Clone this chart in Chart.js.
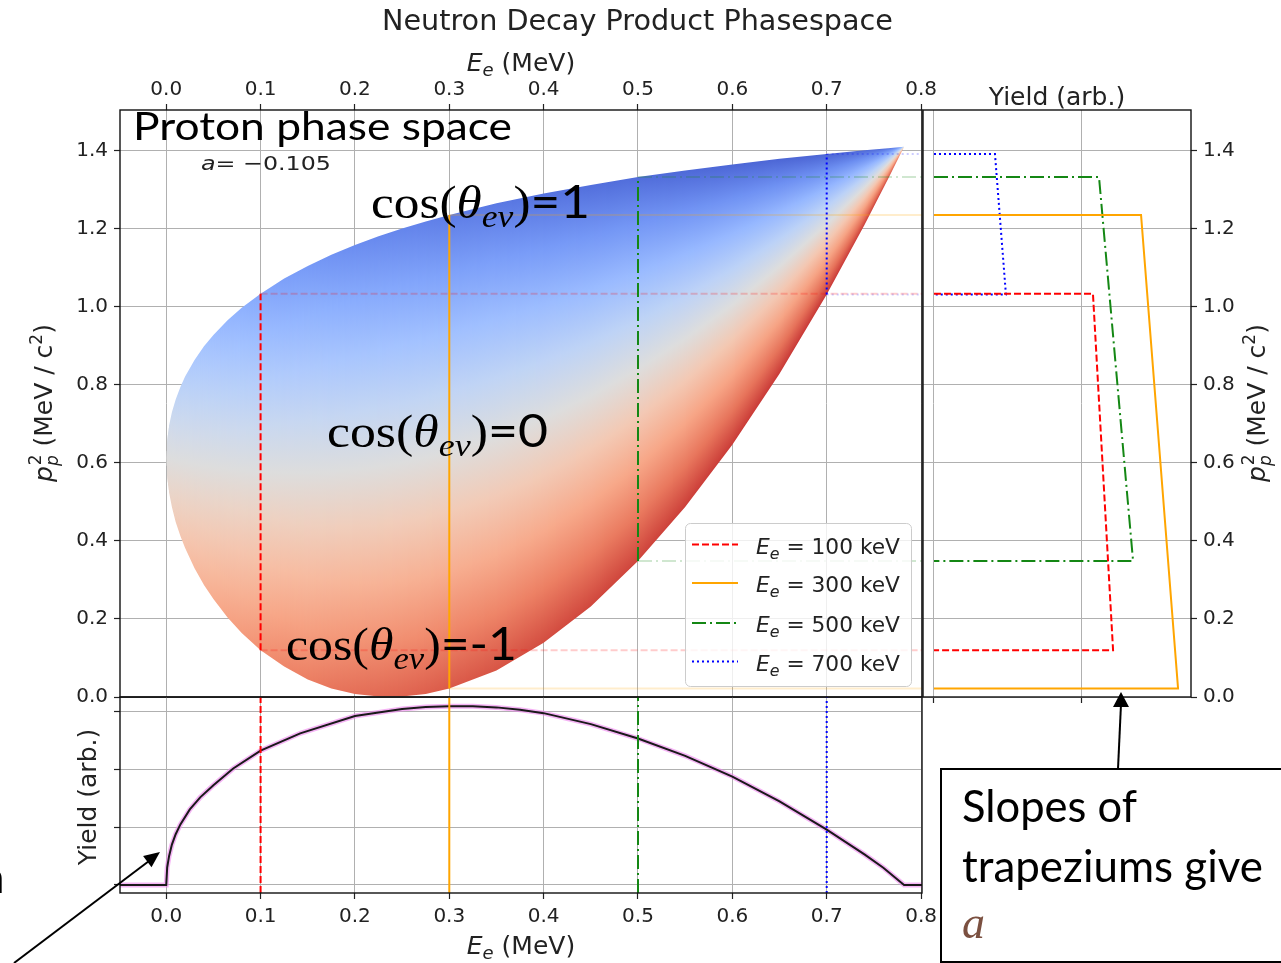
<!DOCTYPE html>
<html>
<head>
<meta charset="utf-8">
<title>Neutron Decay Product Phasespace</title>
<script src="https://cdn.jsdelivr.net/npm/chart.js@4.4.1/dist/chart.umd.min.js"></script>
<style>
  body { margin: 0; background: #fff; }
  #wrap { position: relative; width: 1281px; height: 963px; overflow: hidden; background: #fff; }
  #wrap canvas, #wrap svg { position: absolute; left: 0; top: 0; }
</style>
</head>
<body>
<div id="wrap">
  <canvas id="phaseChart" width="1281" height="963"></canvas>
  <canvas id="yieldChart" width="1281" height="963"></canvas>
  <canvas id="spectrumChart" width="1281" height="963"></canvas>
  <svg id="notes" width="1281" height="963" xmlns="http://www.w3.org/2000/svg">
    <g font-family="DejaVu Sans" fill="#222">
      <text x="637.5" y="30" font-size="28" text-anchor="middle" textLength="511" lengthAdjust="spacingAndGlyphs">Neutron Decay Product Phasespace</text>
      <text x="521" y="71" font-size="25" text-anchor="middle"><tspan font-style="italic">E</tspan><tspan font-style="italic" font-size="18" dy="5">e</tspan><tspan dy="-5"> (MeV)</tspan></text>
      <text x="521" y="954" font-size="25" text-anchor="middle"><tspan font-style="italic">E</tspan><tspan font-style="italic" font-size="18" dy="5">e</tspan><tspan dy="-5"> (MeV)</tspan></text>
      <text x="1057" y="105" font-size="25" text-anchor="middle">Yield (arb.)</text>
      <text transform="translate(96,797) rotate(-90)" font-size="25" text-anchor="middle">Yield (arb.)</text>
      <text transform="translate(52,403) rotate(-90)" font-size="25" text-anchor="middle"><tspan font-style="italic">p</tspan><tspan font-style="italic" font-size="17" dy="6">p</tspan><tspan font-size="17" dx="-10" dy="-17">2</tspan><tspan dy="11"> (MeV / c</tspan><tspan font-size="17" dy="-10">2</tspan><tspan dy="10">)</tspan></text>
      <text transform="translate(1265,403) rotate(-90)" font-size="25" text-anchor="middle"><tspan font-style="italic">p</tspan><tspan font-style="italic" font-size="17" dy="6">p</tspan><tspan font-size="17" dx="-10" dy="-17">2</tspan><tspan dy="11"> (MeV / c</tspan><tspan font-size="17" dy="-10">2</tspan><tspan dy="10">)</tspan></text>
      <text x="201" y="170" font-size="20" textLength="130" lengthAdjust="spacingAndGlyphs"><tspan font-style="italic">a</tspan>= −0.105</text>
    </g>
    <g id="legendBox"></g>
    <g font-family="Lato" fill="#000">
      <text x="133" y="140" font-size="39" textLength="379" lengthAdjust="spacingAndGlyphs">Proton phase space</text>
      <text x="-20" y="893" font-size="44">n</text>
      <text x="962" y="822" font-size="44" textLength="175" lengthAdjust="spacingAndGlyphs">Slopes of</text>
      <text x="962" y="882" font-size="44" textLength="301" lengthAdjust="spacingAndGlyphs">trapeziums give</text>
      <text x="962" y="938" font-size="46" font-family="Liberation Serif" font-style="italic" fill="#7b5040">a</text>
    </g>
    <g font-family="Liberation Serif" fill="#000" font-size="46">
      <text x="371" y="218" textLength="219" lengthAdjust="spacingAndGlyphs">cos(<tspan font-style="italic">θ</tspan><tspan font-style="italic" font-size="32" dy="9">eν</tspan><tspan dy="-9">)</tspan><tspan font-family="Lato">=1</tspan></text>
      <text x="327" y="447" textLength="221" lengthAdjust="spacingAndGlyphs">cos(<tspan font-style="italic">θ</tspan><tspan font-style="italic" font-size="32" dy="9">eν</tspan><tspan dy="-9">)</tspan><tspan font-family="Lato">=0</tspan></text>
      <text x="286" y="660" textLength="231" lengthAdjust="spacingAndGlyphs">cos(<tspan font-style="italic">θ</tspan><tspan font-style="italic" font-size="32" dy="9">eν</tspan><tspan dy="-9">)</tspan><tspan font-family="Lato">=-1</tspan></text>
    </g>
    <rect x="941" y="769" width="400" height="193" fill="none" stroke="#000" stroke-width="2"/>
    <line x1="1118" y1="769" x2="1121" y2="704" stroke="#000" stroke-width="2"/>
    <polygon points="1121,692 1113,707 1129,707" fill="#000"/>
    <line x1="14" y1="963" x2="149" y2="861" stroke="#000" stroke-width="2"/>
    <polygon points="160,852 151.5,867.3 143.1,856.1" fill="#000"/>
  </svg>
</div>
<script>
// ---- values ----
// proton phase space boundary: p_p^2 at cos = +1 (upper) and cos = -1 (lower)
const energyMeV = [0, 0.001, 0.003, 0.006, 0.01, 0.015, 0.02, 0.03, 0.04, 0.05, 0.065, 0.08, 0.1, 0.125, 0.15, 0.175, 0.2, 0.225, 0.25, 0.275, 0.3, 0.35, 0.4, 0.45, 0.5, 0.55, 0.6, 0.65, 0.7, 0.74, 0.765, 0.782];
const ppUpper = [0.612, 0.661, 0.696, 0.730, 0.763, 0.795, 0.822, 0.864, 0.899, 0.928, 0.966, 0.998, 1.034, 1.073, 1.105, 1.134, 1.159, 1.181, 1.201, 1.219, 1.236, 1.266, 1.291, 1.313, 1.333, 1.350, 1.365, 1.380, 1.392, 1.402, 1.407, 1.411];
const ppLower = [0.612, 0.561, 0.524, 0.487, 0.449, 0.413, 0.382, 0.330, 0.287, 0.251, 0.204, 0.164, 0.120, 0.078, 0.045, 0.022, 0.008, 0.001, 0.001, 0.008, 0.022, 0.068, 0.139, 0.232, 0.349, 0.487, 0.647, 0.829, 1.032, 1.210, 1.328, 1.411];
// electron speed (v/c), sets how strong the colour gets at each energy
const electronBeta = [0, 0.06, 0.11, 0.15, 0.20, 0.24, 0.27, 0.33, 0.37, 0.41, 0.46, 0.50, 0.55, 0.60, 0.63, 0.67, 0.70, 0.72, 0.74, 0.76, 0.78, 0.80, 0.83, 0.85, 0.86, 0.88, 0.89, 0.90, 0.91, 0.91, 0.92, 0.92];

// the four electron energy slices
const cutEnergy = [0.1, 0.3, 0.5, 0.7];
const cutLabels = ['100', '300', '500', '700'];
const cutLow = [0.120, 0.022, 0.349, 1.032];
const cutHigh = [1.034, 1.236, 1.333, 1.392];
const trapYieldHigh = [1.074, 1.399, 1.115, 0.412];
const trapYieldLow = [1.210, 1.649, 1.345, 0.486];

// electron energy spectrum (bottom panel)
const spectrumE = [-0.049, 0, 0.001, 0.003, 0.006, 0.01, 0.015, 0.025, 0.036, 0.05, 0.071, 0.1, 0.142, 0.2, 0.25, 0.275, 0.3, 0.325, 0.35, 0.375, 0.4, 0.45, 0.5, 0.55, 0.6, 0.65, 0.7, 0.74, 0.76, 0.782, 0.801];
const spectrumYield = [0, 0, 0.30, 0.50, 0.70, 0.88, 1.05, 1.31, 1.52, 1.73, 2.02, 2.33, 2.63, 2.93, 3.05, 3.085, 3.10, 3.10, 3.08, 3.04, 2.98, 2.79, 2.54, 2.24, 1.88, 1.45, 0.96, 0.53, 0.30, 0, 0];

const energyTicks = [0, 0.1, 0.2, 0.3, 0.4, 0.5, 0.6, 0.7, 0.8];
const ppTicks = [0, 0.2, 0.4, 0.6, 0.8, 1.0, 1.2, 1.4];
const yieldTicks = [0, 1, 2, 3];
const sideTicks = [0, 1];

const cutStyle = [
  { rgb: '255,0,0', dash: [7, 3] },
  { rgb: '255,165,0', dash: [] },
  { rgb: '20,135,20', dash: [14, 4, 2, 4] },
  { rgb: '0,0,255', dash: [2, 3] }
];

const coolwarm = [[59,76,192],[68,90,204],[77,104,215],[87,117,225],[98,130,234],[108,142,241],[119,154,247],[130,165,251],[141,176,254],[152,185,255],[163,194,255],[174,201,253],[184,208,249],[194,213,244],[204,217,238],[213,219,230],[221,221,221],[229,216,209],[236,211,197],[241,204,185],[245,196,173],[247,187,160],[247,177,148],[247,166,135],[244,154,123],[241,141,111],[236,127,99],[229,112,88],[222,96,77],[213,80,66],[203,62,56],[192,40,47],[180,4,38]];

function cmap(t) {
  t = Math.min(1, Math.max(0, t)) * (coolwarm.length - 1);
  const i = Math.min(coolwarm.length - 2, Math.floor(t)), f = t - i;
  const a = coolwarm[i], b = coolwarm[i + 1];
  return 'rgb(' + [0, 1, 2].map(k => Math.round(a[k] + f * (b[k] - a[k]))).join(',') + ')';
}

function lookup(xs, ys, x) {
  if (x <= xs[0]) return ys[0];
  for (let i = 1; i < xs.length; i++) {
    if (x <= xs[i]) {
      const f = (x - xs[i - 1]) / (xs[i] - xs[i - 1]);
      return ys[i - 1] + f * (ys[i] - ys[i - 1]);
    }
  }
  return ys[ys.length - 1];
}

const pts = (xs, ys) => xs.map((x, i) => ({ x: x, y: ys[i] }));

// paints the cos(theta) colouring column by column; used as the fill pattern
const phasePattern = {
  id: 'phasePattern',
  afterLayout(chart) {
    const xs = chart.scales.x, ys = chart.scales.y;
    const off = document.createElement('canvas');
    off.width = chart.width;
    off.height = chart.height;
    const c = off.getContext('2d');
    const e0 = energyMeV[0], e1 = energyMeV[energyMeV.length - 1];
    const p0 = Math.floor(xs.getPixelForValue(e0)) - 1, p1 = Math.ceil(xs.getPixelForValue(e1)) + 1;
    for (let px = p0; px <= p1; px++) {
      const e = Math.min(e1, Math.max(e0, xs.getValueForPixel(px + 0.5)));
      const lo = lookup(energyMeV, ppLower, e), hi = lookup(energyMeV, ppUpper, e);
      const beta = lookup(energyMeV, electronBeta, e);
      const yLo = ys.getPixelForValue(lo) + 2;
      const yHi = ys.getPixelForValue(hi) - 2;
      const g = c.createLinearGradient(0, yLo, 0, yHi);
      for (let k = 0; k <= 8; k++) {
        const cosT = -1 + k / 4;
        g.addColorStop(k / 8, cmap((1 - beta * cosT) / 2));
      }
      c.fillStyle = g;
      c.fillRect(px, yHi, 1, yLo - yHi);
    }
    chart.$phasePattern = c.createPattern(off, 'no-repeat');
  }
};

const frame = {
  id: 'frame',
  afterDraw(chart) {
    const a = chart.chartArea, c = chart.ctx;
    c.save();
    c.strokeStyle = '#111';
    c.lineWidth = 1.4;
    c.strokeRect(a.left, a.top, a.right - a.left, a.bottom - a.top);
    c.restore();
  }
};

const tickFont = { family: 'DejaVu Sans', size: 20 };
const grid = { color: '#b0b0b0', lineWidth: 1, tickColor: '#222', tickLength: 6, tickWidth: 1.2 };
const fmt = v => v.toFixed(1);

function axis(extra, pad) {
  return Object.assign({
    type: 'linear',
    grid: grid,
    border: { display: false },
    ticks: { font: tickFont, color: '#222', padding: pad === undefined ? 6 : pad, maxRotation: 0, autoSkip: false, callback: fmt }
  }, extra);
}

const base = {
  responsive: false,
  animation: false,
  events: [],
  plugins: { legend: { display: false }, tooltip: { enabled: false } }
};

// ---- main phase space panel ----
const phaseSets = [
  { data: pts(energyMeV, ppUpper), fill: '+1', backgroundColor: ctx => ctx.chart.$phasePattern || 'rgba(0,0,0,0)',
    borderColor: 'rgba(0,0,0,0)', borderWidth: 0, pointRadius: 0, order: 20 },
  { data: pts(energyMeV, ppLower), fill: false, borderColor: 'rgba(0,0,0,0)', borderWidth: 0, pointRadius: 0, order: 21 }
];
cutEnergy.forEach((e, i) => {
  const s = cutStyle[i];
  phaseSets.push({ data: [{ x: e, y: cutLow[i] }, { x: e, y: cutHigh[i] }], borderColor: 'rgb(' + s.rgb + ')',
    borderDash: s.dash, borderWidth: 2, pointRadius: 0, fill: false, order: 1 });
  [cutLow[i], cutHigh[i]].forEach(v => {
    phaseSets.push({ data: [{ x: e, y: v }, { x: 0.801, y: v }], borderColor: 'rgba(' + s.rgb + ',0.2)',
      borderDash: s.dash, borderWidth: 2, pointRadius: 0, fill: false, order: 5 });
  });
});

new Chart(document.getElementById('phaseChart'), {
  type: 'line',
  data: { datasets: phaseSets },
  options: Object.assign({}, base, {
    layout: { padding: { left: 0, top: 0, right: 359, bottom: 266 } },
    scales: {
      x: axis({ position: 'top', min: -0.049, max: 0.801,
        afterBuildTicks: s => { s.ticks = energyTicks.map(v => ({ value: v })); },
        afterFit: s => { s.height = 110; } }, 2),
      y: axis({ position: 'left', min: 0, max: 1.505,
        afterBuildTicks: s => { s.ticks = ppTicks.map(v => ({ value: v })); },
        afterFit: s => { s.width = 120; } })
    }
  }),
  plugins: [phasePattern, frame]
});

// ---- side panel: yield vs p_p^2 trapezoids ----
const sideSets = cutEnergy.map((e, i) => ({
  data: [{ x: 0, y: cutHigh[i] }, { x: trapYieldHigh[i], y: cutHigh[i] }, { x: trapYieldLow[i], y: cutLow[i] }, { x: 0, y: cutLow[i] }],
  borderColor: 'rgb(' + cutStyle[i].rgb + ')', borderDash: cutStyle[i].dash, borderWidth: 2,
  pointRadius: 0, fill: false
}));

new Chart(document.getElementById('yieldChart'), {
  type: 'line',
  data: { datasets: sideSets },
  options: Object.assign({}, base, {
    layout: { padding: { left: 923, top: 110, right: 0, bottom: 0 } },
    scales: {
      x: axis({ position: 'bottom', min: -0.0743, max: 1.7365,
        afterBuildTicks: s => { s.ticks = sideTicks.map(v => ({ value: v })); },
        afterFit: s => { s.height = 266; },
        ticks: { display: true, font: tickFont, callback: () => '' } }),
      y: axis({ position: 'right', min: 0, max: 1.505,
        afterBuildTicks: s => { s.ticks = ppTicks.map(v => ({ value: v })); },
        afterFit: s => { s.width = 90; } })
    }
  }),
  plugins: [frame]
});

// ---- bottom panel: electron energy spectrum ----
const spectrumSets = cutEnergy.map((e, i) => ({
  data: [{ x: e, y: -0.139 }, { x: e, y: 3.26 }],
  borderColor: 'rgb(' + cutStyle[i].rgb + ')', borderDash: cutStyle[i].dash, borderWidth: 2,
  pointRadius: 0, fill: false, order: 1
}));
spectrumSets.push({ data: pts(spectrumE, spectrumYield), borderColor: '#1a1a1a', borderWidth: 2, pointRadius: 0,
  fill: false, order: 3 });
spectrumSets.push({ data: pts(spectrumE, spectrumYield), borderColor: 'rgba(238,130,238,0.6)', borderWidth: 5, pointRadius: 0,
  fill: false, order: 4 });

new Chart(document.getElementById('spectrumChart'), {
  type: 'line',
  data: { datasets: spectrumSets },
  options: Object.assign({}, base, {
    layout: { padding: { left: 0, top: 697, right: 359, bottom: 0 } },
    scales: {
      x: axis({ position: 'bottom', min: -0.049, max: 0.801,
        afterBuildTicks: s => { s.ticks = energyTicks.map(v => ({ value: v })); },
        afterFit: s => { s.height = 70; } }),
      y: axis({ position: 'left', min: -0.139, max: 3.26,
        afterBuildTicks: s => { s.ticks = yieldTicks.map(v => ({ value: v })); },
        afterFit: s => { s.width = 120; },
        ticks: { font: tickFont, callback: () => '' } })
    }
  }),
  plugins: [frame]
});

// ---- legend inside the main panel ----
(function buildLegend() {
  const ns = 'http://www.w3.org/2000/svg';
  const g = document.getElementById('legendBox');
  const box = document.createElementNS(ns, 'rect');
  [['x', 685.5], ['y', 523.5], ['width', 226], ['height', 163], ['rx', 5], ['fill', 'rgba(255,255,255,0.8)'], ['stroke', '#cccccc'], ['stroke-width', 1]]
    .forEach(([k, v]) => box.setAttribute(k, v));
  g.appendChild(box);
  const rowY = [544.5, 583, 623, 661.5];
  cutLabels.forEach((lab, i) => {
    const ln = document.createElementNS(ns, 'line');
    [['x1', 692], ['x2', 738], ['y1', rowY[i]], ['y2', rowY[i]], ['stroke', 'rgb(' + cutStyle[i].rgb + ')'], ['stroke-width', 2],
     ['stroke-dasharray', cutStyle[i].dash.length ? cutStyle[i].dash.join(' ') : 'none']].forEach(([k, v]) => ln.setAttribute(k, v));
    g.appendChild(ln);
    const t = document.createElementNS(ns, 'text');
    t.setAttribute('x', 756);
    t.setAttribute('y', rowY[i] + 9);
    t.setAttribute('font-family', 'DejaVu Sans');
    t.setAttribute('font-size', 22);
    t.setAttribute('fill', '#222');
    t.setAttribute('textLength', 144);
    t.setAttribute('lengthAdjust', 'spacingAndGlyphs');
    t.innerHTML = '<tspan font-style="italic">E</tspan><tspan font-style="italic" font-size="16" dy="5">e</tspan><tspan dy="-5"> = ' + lab + ' keV</tspan>';
    g.appendChild(t);
  });
})();
</script>
</body>
</html>
